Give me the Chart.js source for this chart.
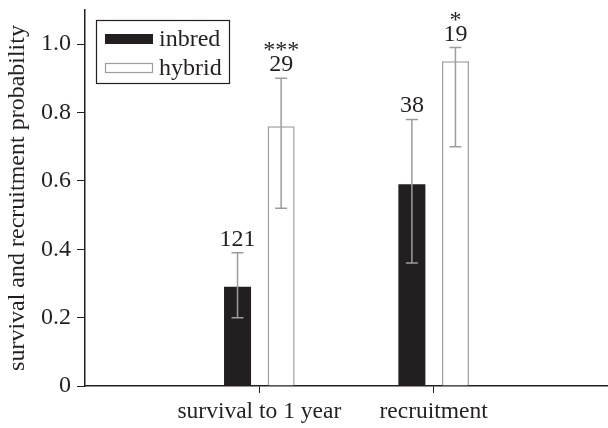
<!DOCTYPE html>
<html>
<head>
<meta charset="utf-8">
<script src="https://cdn.jsdelivr.net/npm/chart.js@4/dist/chart.umd.min.js"></script>
<style>
  html, body { margin: 0; padding: 0; background: #fff; }
  #wrap { width: 608px; height: 428px; }
</style>
</head>
<body>
<div id="wrap"><canvas id="chart" width="608" height="428"></canvas></div>
<script>
// categories and values
const categories = ['survival to 1 year', 'recruitment'];
const inbredValues = [0.29, 0.59];
const hybridValues = [0.76, 0.95];
const inbredLow = [0.20, 0.36];
const inbredHigh = [0.39, 0.78];
const hybridLow = [0.52, 0.70];
const hybridHigh = [0.90, 0.99];
const inbredN = ['121', '38'];
const hybridN = ['29', '19'];
const hybridSig = ['***', '*'];
const yTicks = [0, 0.2, 0.4, 0.6, 0.8, 1.0];

const FONT = 'Liberation Serif';
const INK = '#231f20';
const GREY = '#9d9d9d';

// empty slot on each side so the axis runs past the two groups
const labels = [''].concat(categories, ['']);
const pad = arr => [null].concat(arr, [null]);

const errors = [
  { low: pad(inbredLow), high: pad(inbredHigh), n: pad(inbredN), sig: pad(['', '']) },
  { low: pad(hybridLow), high: pad(hybridHigh), n: pad(hybridN), sig: pad(hybridSig) }
];

const errorBars = {
  id: 'errorBars',
  afterDatasetsDraw(chart) {
    const ctx = chart.ctx;
    const y = chart.scales.y;
    ctx.save();
    chart.data.datasets.forEach((ds, di) => {
      const meta = chart.getDatasetMeta(di);
      const e = errors[di];
      meta.data.forEach((bar, i) => {
        if (e.low[i] == null) return;
        const x = bar.x;
        const yl = y.getPixelForValue(e.low[i]);
        const yh = y.getPixelForValue(e.high[i]);
        ctx.strokeStyle = GREY;
        ctx.lineWidth = 1.5;
        ctx.beginPath();
        ctx.moveTo(x, yl); ctx.lineTo(x, yh);
        ctx.moveTo(x - 6, yl); ctx.lineTo(x + 6, yl);
        ctx.moveTo(x - 6, yh); ctx.lineTo(x + 6, yh);
        ctx.stroke();

        ctx.fillStyle = INK;
        ctx.textAlign = 'center';
        ctx.textBaseline = 'alphabetic';
        ctx.font = '24px "' + FONT + '"';
        const base = yh - 7;
        ctx.fillText(e.n[i], x, base);
        if (e.sig[i]) ctx.fillText(e.sig[i], x, base - 14);
      });
    });
    ctx.restore();
  }
};

const boxLegend = {
  id: 'boxLegend',
  afterDraw(chart) {
    const ctx = chart.ctx;
    ctx.save();
    ctx.strokeStyle = INK;
    ctx.lineWidth = 1.2;
    ctx.strokeRect(96.5, 20.5, 133, 63);
    chart.data.datasets.forEach((ds, i) => {
      const top = 34 + i * 29;
      ctx.fillStyle = ds.backgroundColor;
      ctx.fillRect(105, top, 48, 10);
      if (ds.borderWidth) {
        ctx.strokeStyle = ds.borderColor;
        ctx.lineWidth = 1.2;
        ctx.strokeRect(105.5, top + 0.5, 47, 9);
      }
      ctx.fillStyle = INK;
      ctx.font = '24px "' + FONT + '"';
      ctx.textAlign = 'left';
      ctx.textBaseline = 'alphabetic';
      ctx.fillText(ds.label, 159, top + 12);
    });
    ctx.restore();
  }
};

new Chart(document.getElementById('chart'), {
  type: 'bar',
  data: {
    labels,
    datasets: [
      { label: 'inbred', data: pad(inbredValues), backgroundColor: INK, borderWidth: 0 },
      { label: 'hybrid', data: pad(hybridValues), backgroundColor: '#ffffff', borderColor: GREY, borderWidth: 1.5 }
    ]
  },
  options: {
    responsive: false,
    animation: false,
    categoryPercentage: 0.5,
    barPercentage: 0.62,
    layout: { padding: { top: 10, right: 0, bottom: 0, left: 0 } },
    plugins: { legend: { display: false }, tooltip: { enabled: false } },
    scales: {
      x: {
        offset: false,
        grid: {
          offset: false,
          drawOnChartArea: false,
          tickLength: 7,
          color: c => (c.index === 0 || c.index === labels.length - 1) ? 'rgba(0,0,0,0)' : INK
        },
        border: { color: INK, width: 1.5 },
        ticks: { color: INK, font: { family: FONT, size: 23.5 }, padding: 5, maxRotation: 0, autoSkip: false },
        afterFit: s => { s.height = 42; s.paddingLeft = 0; s.paddingRight = 0; }
      },
      y: {
        min: 0,
        max: 1.1,
        afterBuildTicks: s => { s.ticks = yTicks.map(v => ({ value: v })); },
        grid: { drawOnChartArea: false, tickLength: 8, color: INK },
        border: { color: INK, width: 1.5 },
        ticks: {
          color: INK,
          font: { family: FONT, size: 24 },
          padding: 6,
          callback: v => v === 0 ? '0' : v.toFixed(1)
        },
        title: {
          display: true,
          text: 'survival and recruitment probability',
          color: INK,
          font: { family: FONT, size: 24 },
          padding: { top: 3, bottom: 0 }
        },
        afterFit: s => { s.width = 85; s.paddingTop = 0; s.paddingBottom = 0; }
      }
    }
  },
  plugins: [errorBars, boxLegend]
});
</script>
</body>
</html>
